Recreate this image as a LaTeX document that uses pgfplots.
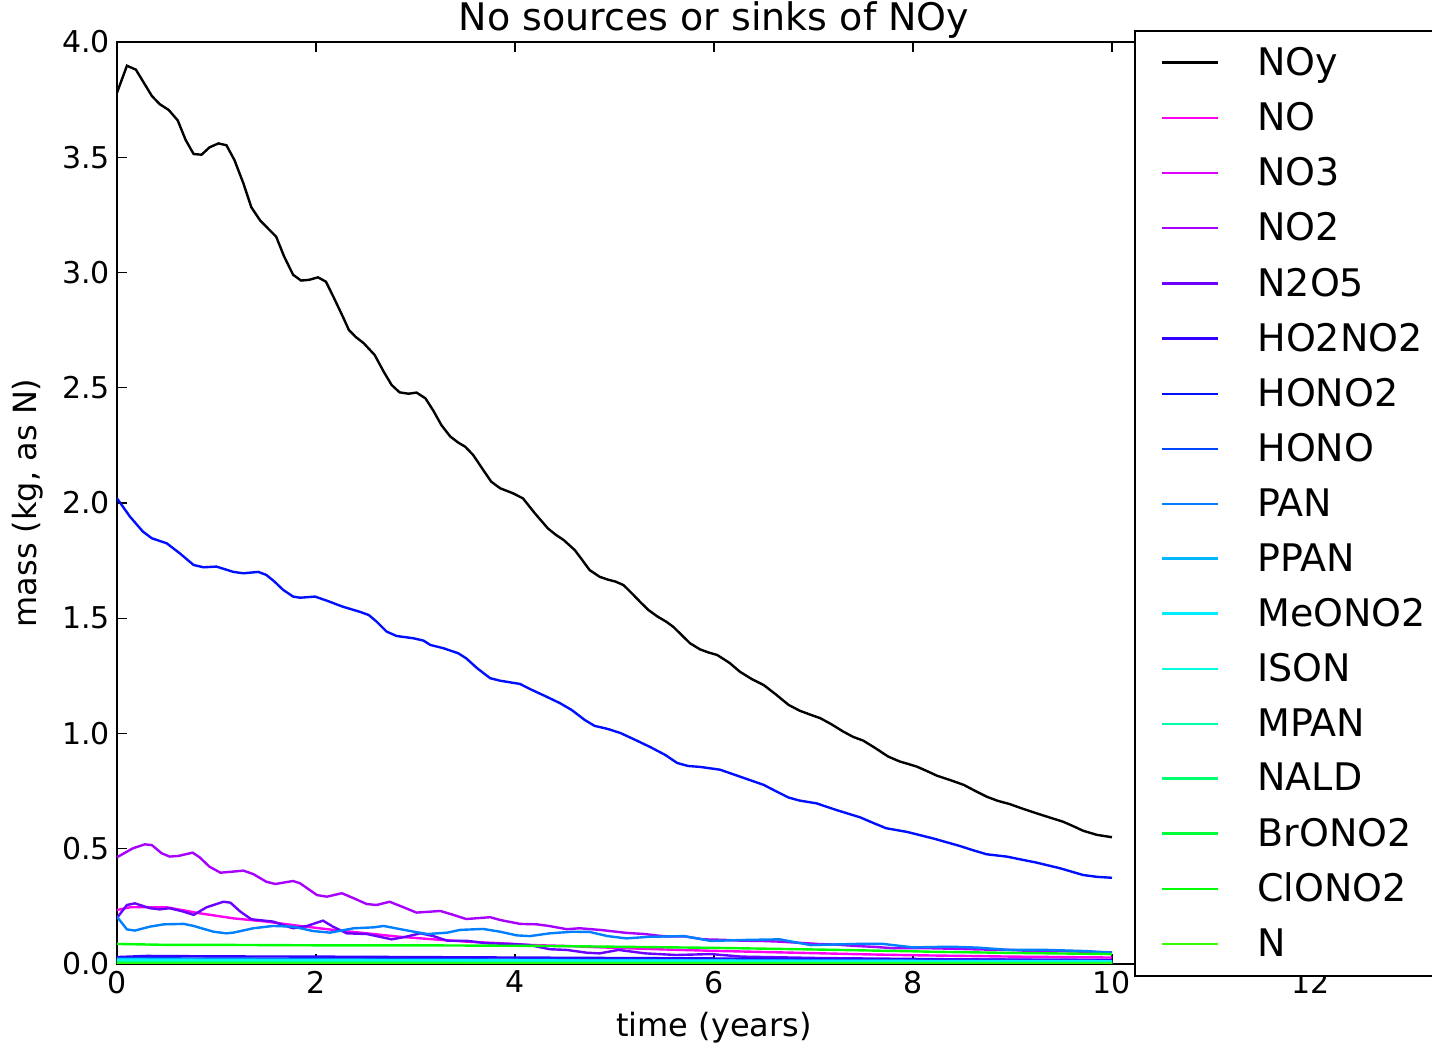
\documentclass[border=0pt]{standalone}
\usepackage{pgfplots}
\pgfplotsset{compat=1.18}
\usepackage{fontspec}
\setmainfont{DejaVu Sans}

\definecolor{cNO}{HTML}{FF00F0}
\definecolor{cNOthree}{HTML}{E000FF}
\definecolor{cNOtwo}{HTML}{A800FF}
\definecolor{cNtwoOfive}{HTML}{6A00FF}
\definecolor{cHOtwoNOtwo}{HTML}{3300FF}
\definecolor{cHONOtwo}{HTML}{0010FF}
\definecolor{cHONO}{HTML}{0048FF}
\definecolor{cPAN}{HTML}{0080FF}
\definecolor{cPPAN}{HTML}{00B4FF}
\definecolor{cMeONOtwo}{HTML}{00EEFF}
\definecolor{cISON}{HTML}{00FFDD}
\definecolor{cMPAN}{HTML}{00FFA8}
\definecolor{cNALD}{HTML}{00FF70}
\definecolor{cBrONOtwo}{HTML}{00FF38}
\definecolor{cClONOtwo}{HTML}{00FF05}
\definecolor{cN}{HTML}{33FF00}

\newcommand\lbl[1]{\makebox[110pt][l]{#1}}

\begin{document}
\begin{tikzpicture}
\begin{axis}[
  at={(0pt,0pt)}, anchor=south west,
  scale only axis, width=597pt, height=461pt,
  xmin=0, xmax=12, ymin=0, ymax=4,
  xtick={0,2,...,12}, ytick={0,0.5,...,4},
  yticklabel style={/pgf/number format/.cd, fixed, fixed zerofill, precision=1},
  /pgf/number format/assume math mode=true,
  tick label style={font=\fontsize{15}{15}\selectfont},
  major tick length=5pt,
  tick style={black, line width=0.6pt},
  axis line style={line width=1pt},
  title={No sources or sinks of NOy},
  title style={font=\fontsize{19}{19}\selectfont, at={(axis description cs:0.5,1)}, anchor=base, yshift=-0.5pt},
  xlabel={time (years)},
  xlabel style={font=\fontsize{16}{16}\selectfont, at={(axis description cs:0.5,0)}, anchor=base, yshift=-36.5pt},
  ylabel={mass (kg, as N)},
  ylabel style={font=\fontsize{16}{16}\selectfont, at={(axis description cs:-0.0745,0.5)}, anchor=center},
  every axis plot/.append style={line width=1.2pt, mark=none},
  legend cell align=left,
  legend image code/.code={\draw[#1] (0pt,0pt) -- (28pt,0pt);},
  legend style={at={(axis description cs:0.8518,1.013)}, anchor=north west,
    draw=black, line width=1pt, fill=white,
    font=\fontsize{19}{19}\selectfont,
    inner xsep=13pt, inner ysep=6pt, row sep=8pt, column sep=17pt},
]
\addplot[black] coordinates {
(0.0,3.78) (0.1,3.897) (0.19,3.88) (0.35,3.766) (0.43,3.73) (0.52,3.705)
(0.61,3.66) (0.69,3.575) (0.77,3.514) (0.85,3.511) (0.93,3.543) (1.02,3.56)
(1.10,3.552) (1.18,3.488) (1.27,3.387) (1.35,3.283) (1.44,3.225) (1.52,3.19)
(1.60,3.155) (1.68,3.069) (1.77,2.99) (1.85,2.965) (1.93,2.968) (2.02,2.979)
(2.10,2.96) (2.18,2.89) (2.27,2.808) (2.33,2.751) (2.40,2.72) (2.48,2.693)
(2.59,2.642) (2.68,2.57) (2.76,2.512) (2.84,2.48) (2.93,2.474) (3.01,2.479)
(3.10,2.454) (3.18,2.40) (3.26,2.338) (3.35,2.288) (3.43,2.262) (3.50,2.244)
(3.58,2.208) (3.67,2.15) (3.76,2.093) (3.85,2.064) (3.98,2.042) (4.08,2.02)
(4.20,1.955) (4.33,1.89) (4.41,1.862) (4.49,1.839) (4.60,1.796) (4.68,1.75)
(4.75,1.709) (4.85,1.68) (4.93,1.668) (5.01,1.659) (5.09,1.644) (5.17,1.61)
(5.26,1.57) (5.34,1.536) (5.43,1.508) (5.52,1.485) (5.59,1.463) (5.68,1.425)
(5.76,1.391) (5.86,1.365) (5.94,1.352) (6.03,1.341) (6.10,1.322) (6.16,1.305)
(6.26,1.268) (6.38,1.236) (6.50,1.21) (6.62,1.17) (6.75,1.124) (6.86,1.099)
(6.96,1.083) (7.07,1.066) (7.18,1.04) (7.30,1.008) (7.40,0.985) (7.50,0.969)
(7.62,0.937) (7.75,0.9) (7.87,0.878) (7.95,0.868) (8.04,0.856) (8.14,0.837)
(8.24,0.817) (8.38,0.797) (8.51,0.777) (8.62,0.752) (8.74,0.726) (8.85,0.708)
(8.97,0.694) (9.10,0.674) (9.24,0.654) (9.37,0.636) (9.51,0.617) (9.61,0.598)
(9.71,0.578) (9.85,0.56) (10.0,0.55)};
\addlegendentry{\lbl{NOy}}
\addplot[cNO] coordinates {
(0,0.234) (0.13,0.246) (0.5,0.246) (0.83,0.22) (1.17,0.198) (1.5,0.184)
(1.84,0.165) (2.17,0.148) (2.51,0.133) (2.84,0.118) (3.18,0.107) (3.51,0.097)
(3.85,0.09) (4.18,0.082) (4.52,0.078) (5,0.07) (5.5,0.063) (6,0.057) (6.5,0.052)
(7,0.047) (7.5,0.042) (8,0.038) (8.5,0.035) (9,0.032) (9.5,0.03) (10,0.028)};
\addlegendentry{\lbl{NO}}
\addplot[cNOthree] coordinates {(0,0.005) (5,0.003) (10,0.002)};
\addlegendentry{\lbl{NO3}}
\addplot[cNOtwo] coordinates {
(0.0,0.463) (0.16,0.502) (0.28,0.519) (0.35,0.516) (0.45,0.48) (0.53,0.466)
(0.62,0.469) (0.76,0.483) (0.83,0.463) (0.93,0.422) (1.04,0.396) (1.17,0.401)
(1.27,0.405) (1.37,0.39) (1.50,0.357) (1.59,0.347) (1.77,0.36) (1.84,0.35)
(2.01,0.299) (2.11,0.292) (2.26,0.307) (2.38,0.285) (2.51,0.26) (2.61,0.256)
(2.74,0.27) (2.88,0.246) (3.01,0.223) (3.25,0.23) (3.38,0.213) (3.51,0.195)
(3.75,0.203) (3.85,0.191) (4.05,0.174) (4.22,0.172) (4.34,0.165) (4.52,0.151)
(4.65,0.155) (4.85,0.148) (5.12,0.135) (5.30,0.13) (5.50,0.12) (5.70,0.12)
(5.89,0.107) (6.08,0.105) (6.28,0.101) (6.47,0.1) (6.66,0.097) (6.85,0.092)
(7.04,0.087) (7.23,0.084) (7.43,0.078) (7.62,0.074) (7.81,0.068) (8.00,0.069)
(8.20,0.068) (8.40,0.066) (8.58,0.064) (8.78,0.062) (8.97,0.061) (9.16,0.057)
(9.35,0.058) (9.55,0.055) (9.74,0.053) (10.0,0.05)};
\addlegendentry{\lbl{NO2}}
\addplot[cNtwoOfive] coordinates {
(0.0,0.2) (0.10,0.256) (0.18,0.263) (0.33,0.242) (0.43,0.237) (0.53,0.242)
(0.67,0.227) (0.77,0.213) (0.90,0.246) (1.07,0.27) (1.14,0.266) (1.24,0.227)
(1.35,0.194) (1.57,0.184) (1.67,0.169) (1.77,0.155) (1.91,0.165) (2.07,0.188)
(2.17,0.162) (2.31,0.133) (2.51,0.13) (2.61,0.121) (2.76,0.107) (2.88,0.116)
(3.05,0.133) (3.18,0.121) (3.32,0.101) (3.51,0.101) (3.71,0.09) (3.95,0.087)
(4.15,0.082) (4.35,0.064) (4.52,0.061) (4.72,0.049) (4.85,0.046) (5.04,0.061)
(5.31,0.046) (5.62,0.039) (5.97,0.043) (6.28,0.032) (6.66,0.029) (7.04,0.026)
(7.5,0.024) (8,0.022) (8.5,0.02) (9,0.019) (10,0.017)};
\addlegendentry{\lbl{N2O5}}
\addplot[cHOtwoNOtwo] coordinates {(0,0.03) (0.3,0.035) (1,0.033) (2,0.032) (4,0.028) (6,0.024) (8,0.02) (10,0.017)};
\addlegendentry{\lbl{HO2NO2}}
\addplot[cHONOtwo] coordinates {
(0.0,2.02) (0.13,1.941) (0.26,1.876) (0.35,1.847) (0.50,1.825) (0.63,1.782)
(0.77,1.731) (0.87,1.721) (1.00,1.724) (1.17,1.701) (1.27,1.695) (1.42,1.701)
(1.50,1.688) (1.58,1.66) (1.67,1.623) (1.77,1.594) (1.84,1.589) (1.99,1.594)
(2.11,1.576) (2.27,1.55) (2.44,1.528) (2.53,1.514) (2.61,1.485) (2.71,1.442)
(2.81,1.423) (2.98,1.413) (3.08,1.403) (3.15,1.384) (3.28,1.37) (3.43,1.348)
(3.51,1.326) (3.62,1.283) (3.75,1.24) (3.85,1.229) (3.95,1.222) (4.05,1.215)
(4.15,1.193) (4.30,1.163) (4.45,1.132) (4.57,1.102) (4.70,1.059) (4.80,1.033)
(4.93,1.02) (5.06,1.002) (5.21,0.972) (5.36,0.941) (5.51,0.907) (5.63,0.872)
(5.74,0.859) (5.86,0.855) (6.06,0.843) (6.26,0.813) (6.50,0.777) (6.62,0.75)
(6.75,0.722) (6.86,0.709) (7.03,0.697) (7.23,0.668) (7.47,0.636) (7.60,0.612)
(7.73,0.589) (7.94,0.573) (8.20,0.545) (8.47,0.512) (8.60,0.494) (8.74,0.476)
(8.94,0.466) (9.24,0.44) (9.48,0.415) (9.71,0.386) (9.85,0.378) (10.0,0.374)};
\addlegendentry{\lbl{HONO2}}
\addplot[cHONO] coordinates {(0,0.025) (2,0.022) (5,0.018) (10,0.012)};
\addlegendentry{\lbl{HONO}}
\addplot[cPAN] coordinates {
(0.0,0.205) (0.10,0.15) (0.18,0.145) (0.33,0.162) (0.47,0.172) (0.67,0.174)
(0.77,0.165) (0.97,0.14) (1.10,0.133) (1.17,0.136) (1.37,0.155) (1.57,0.165)
(1.77,0.162) (1.97,0.143) (2.14,0.136) (2.38,0.155) (2.58,0.159) (2.68,0.165)
(2.92,0.145) (3.12,0.13) (3.32,0.136) (3.45,0.148) (3.68,0.152) (3.85,0.14)
(4.02,0.124) (4.15,0.121) (4.35,0.133) (4.58,0.14) (4.75,0.139) (4.93,0.121)
(5.12,0.111) (5.35,0.118) (5.70,0.121) (5.97,0.1) (6.28,0.104) (6.66,0.107)
(6.97,0.082) (7.43,0.087) (7.70,0.087) (8.0,0.072) (8.38,0.075) (8.65,0.071)
(8.97,0.061) (9.35,0.061) (9.74,0.056) (10.0,0.049)};
\addlegendentry{\lbl{PAN}}
\addplot[cPPAN] coordinates {(0,0.02) (5,0.015) (10,0.01)};
\addlegendentry{\lbl{PPAN}}
\addplot[cMeONOtwo] coordinates {(0,0.018) (5,0.015) (10,0.012)};
\addlegendentry{\lbl{MeONO2}}
\addplot[cISON] coordinates {(0,0.012) (5,0.009) (10,0.006)};
\addlegendentry{\lbl{ISON}}
\addplot[cMPAN] coordinates {(0,0.008) (5,0.006) (10,0.004)};
\addlegendentry{\lbl{MPAN}}
\addplot[cNALD] coordinates {(0,0.004) (5,0.003) (10,0.002)};
\addlegendentry{\lbl{NALD}}
\addplot[cBrONOtwo] coordinates {(0,0.003) (5,0.0025) (10,0.002)};
\addlegendentry{\lbl{BrONO2}}
\addplot[cClONOtwo] coordinates {
(0,0.087) (0.5,0.083) (1,0.083) (2,0.081) (3,0.081) (4,0.079) (4.35,0.078)
(5,0.075) (6,0.07) (6.28,0.068) (7,0.063) (8,0.055) (8.2,0.053) (9,0.048) (10,0.043)};
\addlegendentry{\lbl{ClONO2}}
\addplot[cN] coordinates {(0,0.0005) (5,0.0004) (10,0.0003)};
\addlegendentry{\lbl{N}}
\node[anchor=base west, inner sep=0pt, font=\fontsize{15}{15}\selectfont] at (rel axis cs:0,1) [yshift=4.5pt] {1e9};
\end{axis}
\pgfresetboundingbox
\useasboundingbox (-58.5pt,-39.5pt) rectangle (657.5pt,482pt);
\end{tikzpicture}
\end{document}
